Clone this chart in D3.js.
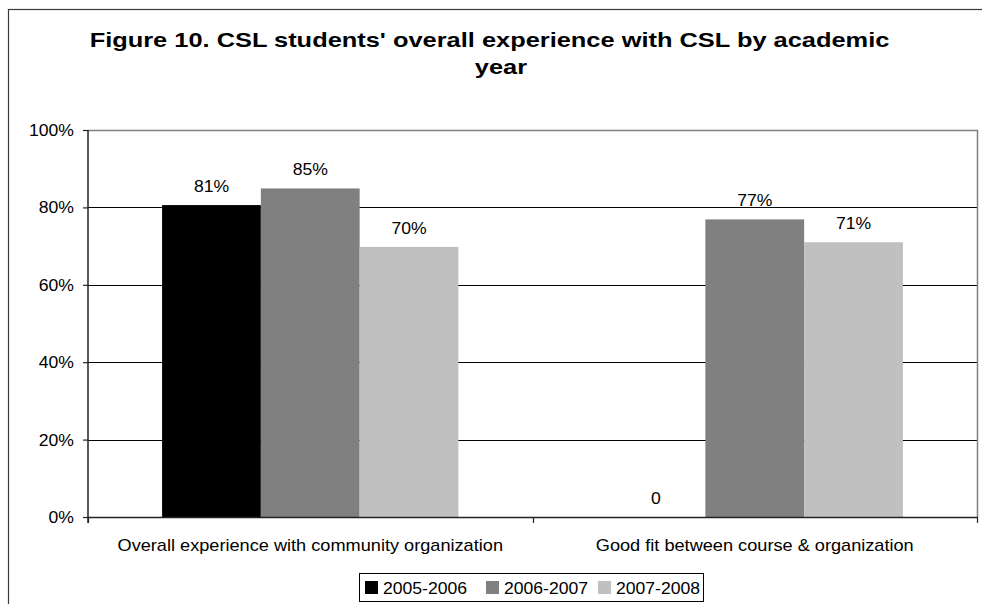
<!DOCTYPE html>
<html>
<head>
<meta charset="utf-8">
<script src="https://cdn.jsdelivr.net/npm/d3@7"></script>
<style>
  html, body { margin: 0; padding: 0; background: #fff; }
  svg { display: block; }
  text { font-family: "Liberation Sans", Arial, sans-serif; fill: #000; }
</style>
</head>
<body>
<svg id="chart" width="982" height="604"></svg>
<script>
// ---- data ----
const titleLines = ["Figure 10. CSL students' overall experience with CSL by academic", "year"];
const categories = ["Overall experience with community organization", "Good fit between course & organization"];
const seriesNames = ["2005-2006", "2006-2007", "2007-2008"];
const values2005_2006 = [0.806, 0];
const values2006_2007 = [0.849, 0.769];
const values2007_2008 = [0.698, 0.710];
const yTickValues = [0, 0.2, 0.4, 0.6, 0.8, 1.0];

// ---- build ----
const seriesValues = [values2005_2006, values2006_2007, values2007_2008];
const colors = ["#000000", "#808080", "#c0c0c0"];
const SX = 1.1; // horizontal text stretch
const svg = d3.select("#chart");

const plot = { left: 88, right: 977, top: 130, bottom: 517 };

// outer chart border (cropped on right/bottom)
svg.append("rect")
  .attr("x", 8.5).attr("y", 9.5)
  .attr("width", 1000).attr("height", 700)
  .attr("fill", "none").attr("stroke", "#3a3a3a").attr("stroke-width", 1.2);

// title
const titleX = [489.5, 501];
const titleY = [47, 74];
titleLines.forEach((t, i) => {
  svg.append("text")
    .attr("transform", `translate(${titleX[i]},${titleY[i]}) scale(1.21,1)`)
    .attr("text-anchor", "middle")
    .style("font-size", "21px").style("font-weight", "bold")
    .text(t);
});

const x0 = d3.scaleBand().domain(categories).range([plot.left, plot.right]).paddingInner(0).paddingOuter(0);
const x1 = d3.scaleBand().domain(seriesNames).range([0, x0.bandwidth()]).paddingInner(0).paddingOuter(0.75);
const y = d3.scaleLinear().domain([0, 1]).range([plot.bottom, plot.top]);

// gridlines
svg.append("g").selectAll("line")
  .data(yTickValues.filter(v => v > 0 && v < 1))
  .join("line")
  .attr("x1", plot.left).attr("x2", plot.right)
  .attr("y1", d => Math.round(y(d)) + 0.5).attr("y2", d => Math.round(y(d)) + 0.5)
  .attr("stroke", "#000").attr("stroke-width", 1);

// plot border top & right (grey)
svg.append("path")
  .attr("d", `M${plot.left},${plot.top + 0.5}H${plot.right + 0.5}V${plot.bottom}`)
  .attr("fill", "none").attr("stroke", "#808080").attr("stroke-width", 1.5);

// bars
const rows = categories.map((c, ci) => seriesNames.map((s, si) => ({ c, s, si, v: seriesValues[si][ci] })));
const groups = svg.append("g").selectAll("g")
  .data(rows).join("g")
  .attr("transform", (d, i) => `translate(${x0(categories[i])},0)`);
groups.selectAll("rect")
  .data(d => d).join("rect")
  .attr("x", d => x1(d.s)).attr("width", x1.bandwidth())
  .attr("y", d => y(d.v)).attr("height", d => y(0) - y(d.v))
  .attr("fill", d => colors[d.si]);
// data labels
const fmt = d => d === 0 ? "0" : d3.format(".0%")(d);
groups.selectAll("text")
  .data(d => d).join("text")
  .attr("transform", d => `translate(${x1(d.s) + x1.bandwidth() / 2},${y(d.v) - 13}) scale(${SX},1)`)
  .attr("text-anchor", "middle")
  .style("font-size", "16px")
  .text(d => fmt(d.v));

// y axis
const yAxis = svg.append("g")
  .attr("transform", `translate(${plot.left},0)`)
  .call(d3.axisLeft(y).tickValues(yTickValues).tickFormat(d3.format(".0%")).tickSize(5).tickPadding(9));
yAxis.select(".domain").attr("stroke", "#222").attr("stroke-width", 1.5).attr("d", `M0,${plot.top}V${plot.bottom + 6}`);
yAxis.selectAll(".tick line").attr("stroke", "#222").attr("stroke-width", 1.2);
yAxis.selectAll(".tick text")
  .style("font-size", "16px").style("font-family", "'Liberation Sans', Arial, sans-serif").attr("fill", "#000")
  .attr("x", null).attr("dy", null)
  .attr("transform", `translate(-14,5.5) scale(${SX},1)`);

// x axis
svg.append("line")
  .attr("x1", plot.left).attr("x2", plot.right + 1)
  .attr("y1", plot.bottom + 0.5).attr("y2", plot.bottom + 0.5)
  .attr("stroke", "#222").attr("stroke-width", 1.5);
const xTickPos = [plot.left, x0(categories[1]), plot.right];
svg.append("g").selectAll("line")
  .data(xTickPos).join("line")
  .attr("x1", d => Math.round(d) + 0.5).attr("x2", d => Math.round(d) + 0.5)
  .attr("y1", plot.bottom).attr("y2", plot.bottom + 6)
  .attr("stroke", "#222").attr("stroke-width", 1.2);
svg.append("g").selectAll("text")
  .data(categories).join("text")
  .attr("transform", d => `translate(${x0(d) + x0.bandwidth() / 2},551) scale(1.135,1)`)
  .attr("text-anchor", "middle")
  .style("font-size", "16px")
  .text(d => d);

// legend
const lg = svg.append("g");
lg.append("rect")
  .attr("x", 359.5).attr("y", 573.5).attr("width", 344).attr("height", 28)
  .attr("fill", "#fff").attr("stroke", "#000").attr("stroke-width", 1);
const legendX = d3.scaleOrdinal().domain(seriesNames).range([365, 486, 598]);
const li = lg.selectAll("g.item").data(seriesNames).join("g").attr("class", "item")
  .attr("transform", d => `translate(${legendX(d)},581)`);
li.append("rect").attr("width", 13).attr("height", 13).attr("fill", (d, i) => colors[i]);
li.append("text")
  .attr("transform", `translate(18,13) scale(${SX},1)`)
  .style("font-size", "16px")
  .text(d => d);
</script>
</body>
</html>
